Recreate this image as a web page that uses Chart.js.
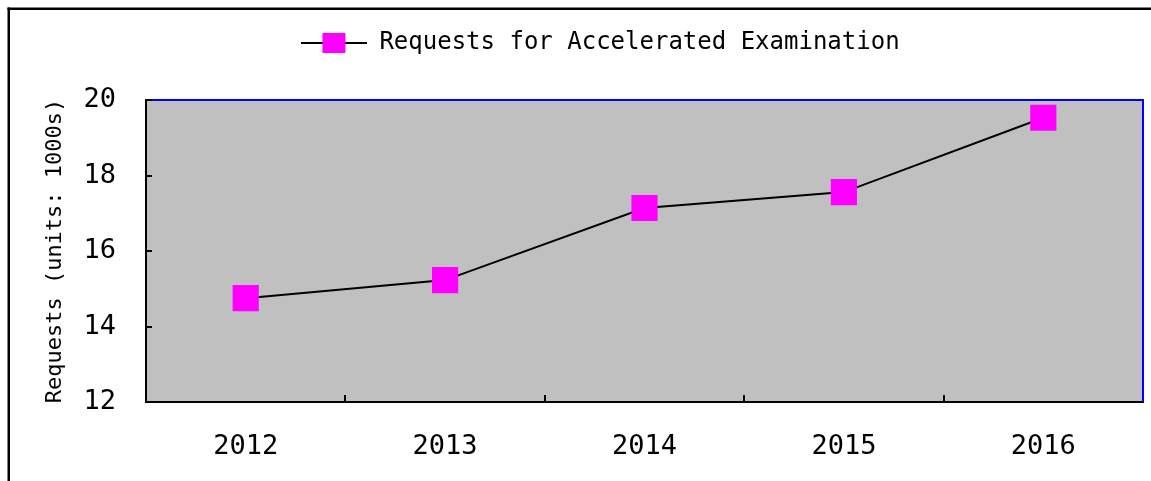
<!DOCTYPE html>
<html>
<head>
<meta charset="utf-8">
<script src="https://cdn.jsdelivr.net/npm/chart.js@4"></script>
<style>
  html, body { margin: 0; padding: 0; background: #fff; }
</style>
</head>
<body>
<canvas id="reqChart" width="1151" height="481"></canvas>
<script>
const years = ['2012', '2013', '2014', '2015', '2016'];
const requests = [14.75, 15.23, 17.14, 17.56, 19.53];
const seriesName = 'Requests for Accelerated Examination';
const axisTitle = 'Requests (units: 1000s)';
const yTicks = [12, 14, 16, 18, 20];

const font = "'DejaVu Sans Mono', monospace";

// legend symbol: line with a square in the middle
const mark = document.createElement('canvas');
mark.width = 66;
mark.height = 22;
const m = mark.getContext('2d');
m.strokeStyle = '#000';
m.lineWidth = 2;
m.beginPath();
m.moveTo(0, 11);
m.lineTo(66, 11);
m.stroke();
m.fillStyle = '#ff00ff';
m.fillRect(21, 1, 23, 20);

// frame, plot background, inner tick marks
const frame = {
    id: 'frame',
    beforeLayout(chart) {
        if (!chart.legend._fixed) {
            const fit = chart.legend.fit;
            chart.legend.fit = function () {
                fit.call(this);
                this.height = 100;
            };
            chart.legend._fixed = true;
        }
    },
    afterLayout(chart) {
        chart.legend.left += 48;
    },
    beforeDraw(chart) {
        const {ctx, chartArea: a} = chart;
        ctx.save();
        ctx.fillStyle = '#c0c0c0';
        ctx.fillRect(a.left, a.top, a.right - a.left, a.bottom - a.top);
        ctx.fillStyle = '#000';
        ctx.fillRect(7.5, 7.5, chart.width, 2.5);
        ctx.fillRect(7.5, 7.5, 2.5, chart.height);
        ctx.restore();
    },
    beforeDatasetsDraw(chart) {
        const {ctx, chartArea: a, scales} = chart;
        ctx.save();
        ctx.fillStyle = '#0000ff';
        ctx.fillRect(a.left, a.top - 1, a.right - a.left + 1, 2);
        ctx.fillRect(a.right - 1, a.top - 1, 2, a.bottom - a.top + 1);
        ctx.strokeStyle = '#000';
        ctx.lineWidth = 2;
        ctx.beginPath();
        yTicks.forEach(v => {
            const y = Math.round(scales.y.getPixelForValue(v));
            ctx.moveTo(a.left, y);
            ctx.lineTo(a.left + 6, y);
        });
        for (let i = 1; i < years.length; i++) {
            const x = Math.round((scales.x.getPixelForTick(i - 1) + scales.x.getPixelForTick(i)) / 2);
            ctx.moveTo(x, a.bottom);
            ctx.lineTo(x, a.bottom - 7);
        }
        ctx.stroke();
        ctx.restore();
    }
};

const ctx = document.getElementById('reqChart').getContext('2d');
const myChart = new Chart(ctx, {
    type: 'line',
    data: {
        labels: years,
        datasets: [{
            label: seriesName,
            data: requests,
            borderColor: '#000',
            borderWidth: 2,
            tension: 0,
            pointStyle: 'rect',
            pointRadius: 18.5,
            pointHoverRadius: 18.5,
            pointBackgroundColor: '#ff00ff',
            pointBorderColor: '#ff00ff',
            pointBorderWidth: 0
        }]
    },
    options: {
        responsive: false,
        animation: false,
        events: [],
        layout: {
            autoPadding: false,
            padding: {left: 10, right: 8, top: 0, bottom: 0}
        },
        plugins: {
            legend: {
                position: 'top',
                labels: {
                    usePointStyle: true,
                    pointStyle: mark,
                    pointStyleWidth: 66,
                    padding: 31,
                    color: '#000',
                    font: {family: font, size: 24}
                }
            },
            tooltip: {enabled: false}
        },
        scales: {
            x: {
                offset: true,
                grid: {display: false, drawTicks: false},
                border: {color: '#000', width: 2},
                ticks: {
                    color: '#000',
                    padding: 29,
                    font: {family: font, size: 27}
                },
                afterFit(s) {
                    s.height = 79;
                    s.paddingLeft = 0;
                    s.paddingRight = 0;
                }
            },
            y: {
                min: yTicks[0],
                max: yTicks[yTicks.length - 1],
                grid: {display: false, drawTicks: false},
                border: {color: '#000', width: 2},
                ticks: {
                    stepSize: 2,
                    color: '#000',
                    padding: 30,
                    font: {family: font, size: 27}
                },
                title: {
                    display: true,
                    text: axisTitle,
                    color: '#000',
                    padding: {top: 32, bottom: 0},
                    font: {family: font, size: 22}
                },
                afterFit(s) { s.width = 136; }
            }
        }
    },
    plugins: [frame]
});
</script>
</body>
</html>
